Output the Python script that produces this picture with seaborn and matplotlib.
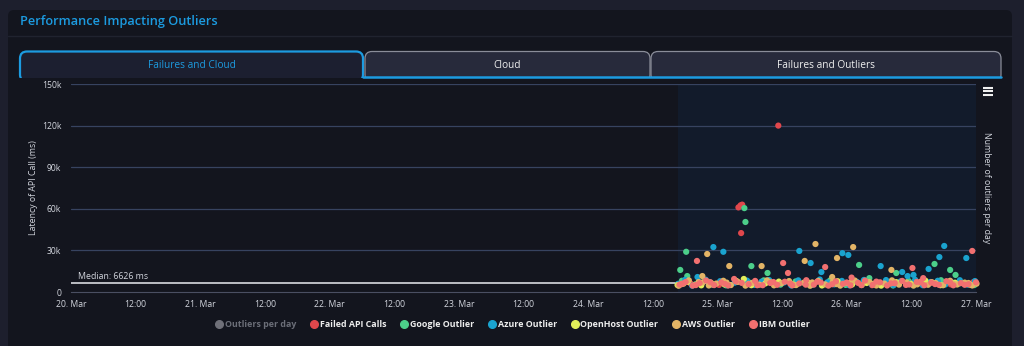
import pandas as pd
import matplotlib
matplotlib.use("Agg")
import matplotlib.pyplot as plt
import matplotlib.transforms as mtransforms
from matplotlib.patches import FancyBboxPatch, Rectangle
from matplotlib.lines import Line2D
import seaborn as sns

W, H = 1024, 346

# ---- data (hours after 24 Mar 16:30, latency in k ms) ----
failed_pts = [(11.4, 61.0), (11.8, 62.5), (12.1, 63.0), (11.9, 42.5), (18.8, 120.0),
              (2.5, 6.2), (7.8, 5.1), (14.6, 7.0), (22.3, 5.8), (29.0, 6.6), (36.2, 4.9),
              (43.5, 6.4), (50.8, 5.5), (55.0, 7.1)]
google_pts = [(12.5, 60.5), (12.7, 50.5), (1.7, 29.0), (0.6, 15.9), (1.9, 11.5), (13.8, 18.7),
              (16.8, 13.7), (33.8, 19.5), (40.7, 13.7), (47.8, 20.2), (50.7, 15.9), (51.7, 12.3),
              (35.7, 10.0),
              (0.9, 8.1), (3.4, 5.5), (6.0, 7.2), (9.1, 4.8), (13.4, 6.8), (16.1, 8.4), (19.2, 5.3),
              (22.0, 7.6), (25.3, 6.0), (28.4, 8.3), (31.3, 5.1), (34.6, 7.5), (37.5, 6.3),
              (40.1, 4.7), (43.0, 7.9), (45.9, 5.6), (49.0, 8.5), (52.4, 6.2), (55.2, 5.0)]
azure_pts = [(6.75, 32.4), (8.6, 29.0), (22.7, 29.6), (24.8, 20.9), (26.8, 14.4), (30.7, 28.0),
             (31.8, 26.7), (37.8, 18.7), (41.8, 14.4), (42.8, 11.5), (43.9, 12.3), (46.7, 16.6),
             (48.7, 25.2), (49.6, 33.2), (53.7, 24.5), (3.8, 10.8),
             (0.2, 5.9), (1.5, 8.8), (2.8, 4.6), (4.1, 7.1), (5.3, 8.9), (6.6, 5.4), (8.0, 7.8),
             (9.4, 4.9), (10.7, 6.7), (13.0, 8.2), (14.4, 5.1), (15.7, 7.5), (17.1, 8.6),
             (18.5, 5.8), (19.9, 6.9), (21.2, 4.7), (22.5, 8.4), (23.8, 6.3), (25.1, 5.2),
             (26.5, 9.0), (27.9, 7.0), (29.2, 5.5), (30.6, 8.0), (32.0, 4.8), (33.4, 7.3),
             (34.7, 8.7), (36.1, 5.7), (37.4, 6.6), (38.8, 8.6), (40.2, 5.0), (41.5, 7.7),
             (42.9, 6.0), (44.2, 8.8), (45.6, 4.9), (47.0, 7.2), (48.4, 8.1), (49.8, 5.4),
             (51.1, 6.8), (52.5, 8.5), (53.9, 5.3), (55.3, 7.9)]
openhost_pts = [(12.4, 9.4),
                (0.1, 5.0), (2.0, 7.3), (4.5, 4.8), (6.3, 6.6), (8.8, 5.5), (11.0, 8.0),
                (13.8, 4.9), (16.4, 6.2), (18.9, 7.5), (21.7, 5.1), (24.3, 6.9), (26.9, 4.7),
                (29.8, 7.8), (32.5, 5.4), (35.2, 6.5), (37.9, 4.6), (40.7, 7.1), (43.4, 5.8),
                (46.1, 8.2), (48.9, 4.9), (51.6, 6.7), (54.4, 5.3)]
aws_pts = [(5.6, 27.4), (9.7, 18.7), (4.7, 11.5), (15.7, 18.7), (23.7, 22.4), (25.7, 34.6),
           (29.7, 24.5), (32.7, 32.4), (39.8, 15.9), (28.8, 10.8),
           (0.3, 4.5), (1.2, 6.0), (2.2, 8.4), (3.3, 5.1), (4.8, 7.0), (5.9, 4.7), (7.3, 6.1),
           (8.6, 8.1), (10.0, 5.0), (11.3, 7.3), (12.7, 4.6), (14.0, 6.6), (15.3, 5.3),
           (16.7, 8.4), (18.0, 4.8), (19.4, 6.3), (20.8, 7.9), (22.1, 5.0), (23.5, 6.7),
           (24.7, 4.5), (26.2, 8.0), (27.5, 5.5), (28.9, 7.1), (30.3, 4.6), (31.6, 6.4),
           (33.0, 8.3), (34.3, 5.0), (35.7, 7.2), (37.0, 4.7), (38.5, 6.1), (39.9, 8.4),
           (41.2, 5.3), (42.6, 6.9), (43.9, 4.6), (45.3, 7.6), (46.6, 5.2), (48.0, 6.5),
           (49.4, 4.9), (50.7, 8.1), (52.0, 5.4), (53.4, 6.8), (54.8, 4.7), (55.6, 6.0),
           (0.8, 5.6), (4.0, 7.2), (6.6, 5.4), (9.2, 6.8), (13.3, 5.9), (17.4, 7.0),
           (21.4, 5.6), (25.1, 6.9), (29.6, 5.7), (32.4, 7.4), (36.4, 5.9), (40.6, 6.6),
           (44.6, 5.5), (47.3, 7.1), (51.4, 5.8), (54.1, 6.5)]
ibm_pts = [(3.7, 22.4), (19.7, 20.9), (20.6, 13.7), (27.5, 18.0), (43.7, 17.3), (45.7, 10.0),
           (54.8, 29.6), (10.6, 9.4), (32.4, 10.4),
           (0.5, 5.4), (1.6, 7.2), (2.9, 4.6), (4.2, 6.4), (5.4, 8.3), (6.9, 5.0), (8.2, 6.9),
           (9.5, 4.7), (10.9, 7.6), (13.3, 5.6), (14.5, 8.0), (15.9, 4.9), (17.3, 6.5),
           (18.6, 5.2), (20.0, 7.4), (21.4, 4.8), (22.7, 6.2), (24.0, 8.5), (25.4, 5.3),
           (26.7, 6.8), (28.1, 4.6), (29.5, 7.7), (30.8, 5.9), (32.2, 4.8), (33.6, 6.6),
           (34.9, 8.2), (36.3, 5.1), (37.7, 7.0), (39.0, 4.7), (40.4, 6.3), (41.8, 8.0),
           (43.1, 5.4), (44.5, 7.3), (45.9, 4.9), (47.2, 6.7), (48.6, 5.2), (50.0, 7.8),
           (51.3, 4.8), (52.7, 6.4), (54.1, 5.6), (55.5, 7.0),
           (1.0, 6.0), (3.5, 5.0), (6.2, 7.0), (8.9, 5.8), (12.0, 6.6), (14.9, 4.9),
           (17.9, 7.2), (21.0, 6.1), (23.9, 5.3), (26.0, 7.4), (28.8, 5.6), (31.5, 6.9),
           (34.2, 5.0), (37.0, 7.5), (39.7, 6.2), (42.5, 5.1), (45.2, 7.0), (47.9, 5.7),
           (50.7, 6.8), (53.4, 5.2)]

series_names = ["Failed API Calls", "Google Outlier", "Azure Outlier",
                "OpenHost Outlier", "AWS Outlier", "IBM Outlier"]
series_colors = ["#e0474c", "#4ccf8a", "#1aa3cf", "#e2ef5a", "#e3b466", "#f27070"]
series_pts = [failed_pts, google_pts, azure_pts, openhost_pts, aws_pts, ibm_pts]

median_ms = 6626
y_ticks = [0, 30000, 60000, 90000, 120000, 150000]
y_labels = ["0", "30k", "60k", "90k", "120k", "150k"]
x_labels = ["20. Mar", "12:00", "21. Mar", "12:00", "22. Mar", "12:00", "23. Mar", "12:00",
            "24. Mar", "12:00", "25. Mar", "12:00", "26. Mar", "12:00", "27. Mar"]
tab_labels = ["Failures and Cloud", "Cloud", "Failures and Outliers"]

start = pd.Timestamp("2024-03-24 16:30")
x_min = pd.Timestamp("2024-03-20")
x_max = pd.Timestamp("2024-03-27")

rows = []
for name, pts in zip(series_names, series_pts):
    for h, v in pts:
        rows.append((name, start + pd.Timedelta(hours=h), v * 1000))
df = pd.DataFrame(rows, columns=["series", "time", "latency"])

# ---- colours ----
outer_bg = "#1d1f2d"
card_bg = "#13151e"
band_bg = "#121b2b"
blue = "#1c9be0"
grid_c = "#374360"
text_c = "#d3d6de"

sns.set_style("dark")
plt.rcParams["font.family"] = ["Open Sans", "DejaVu Sans"]

fig = plt.figure(figsize=(W / 100, H / 100), dpi=100)
fig.patch.set_facecolor(outer_bg)

# background layer in pixel coordinates
bg = fig.add_axes([0, 0, 1, 1])
bg.set_xlim(0, W)
bg.set_ylim(H, 0)
bg.axis("off")
bg.add_patch(FancyBboxPatch((8, 10), 1004, 400, boxstyle="round,pad=0,rounding_size=6",
                            fc=card_bg, ec="none"))
bg.plot([8, 1012], [35.5, 35.5], color="#20232f", lw=1)
bg.text(20, 22, "Performance Impacting Outliers", color=blue, fontsize=9.2,
        fontweight="semibold", va="center", ha="left")

tab_spans = [(20, 363), (365, 650), (651, 1001)]
for i, ((x0, x1), lab) in enumerate(zip(tab_spans, tab_labels)):
    active = i == 0
    bg.add_patch(FancyBboxPatch((x0, 51.5), x1 - x0, 30,
                                boxstyle="round,pad=0,rounding_size=7",
                                fc="#1c1f30" if active else "#272a3b",
                                ec=blue if active else "#8a8d99",
                                lw=1.6 if active else 0.9))
    bg.text((x0 + x1) / 2, 65, lab, color=blue if active else "#f0f0f0",
            fontsize=7.3, ha="center", va="center")
bg.add_patch(Rectangle((15, 78), 995, 6, fc=card_bg, ec="none", zorder=5))
bg.plot([363, 1001], [77, 77], color=blue, lw=1.8, zorder=6)
for yy in (87.5, 91, 94.5):
    bg.plot([983, 993], [yy, yy], color="#f0f0f0", lw=1.5, solid_capstyle="butt")

# main plot
ax = fig.add_axes([71 / W, (H - 292) / H, 905 / W, 208 / H])
ax.set_facecolor("none")
ax.axvspan(df["time"].min(), x_max, color=band_bg, zorder=0, lw=0)
for yv in y_ticks[1:]:
    ax.axhline(yv, color=grid_c, lw=0.9, zorder=1)
ax.axhline(median_ms, color="#d9dbe0", lw=1.2, zorder=2)

sns.scatterplot(data=df, x="time", y="latency", hue="series", hue_order=series_names,
                palette=dict(zip(series_names, series_colors)), s=20, linewidth=0,
                legend=False, ax=ax, zorder=3, clip_on=False)

blend = mtransforms.blended_transform_factory(ax.transAxes, ax.transData)
ax.annotate(f"Median: {median_ms} ms", xy=(0, median_ms), xycoords=blend,
            xytext=(5, 1.5), textcoords="offset points", fontsize=6.3,
            color=text_c, va="bottom", ha="left")

ax.set_xlim(x_min, x_max)
ax.set_ylim(0, 150000)
ax.set_yticks(y_ticks)
ax.set_yticklabels(y_labels)
ax.set_xticks(pd.date_range(x_min, x_max, freq="12h"))
ax.set_xticklabels(x_labels)
ax.grid(False)
ax.set_xlabel("")
ax.set_ylabel("")
for side in ("top", "right", "left"):
    ax.spines[side].set_visible(False)
ax.spines["bottom"].set_color("#4a4f62")
ax.spines["bottom"].set_linewidth(0.8)
ax.tick_params(axis="y", length=0, pad=7, labelsize=6.2, labelcolor=text_c)
ax.tick_params(axis="x", length=3.5, width=0.8, color="#4a4f62", pad=2,
               labelsize=6.2, labelcolor=text_c)

fig.text(34 / W, 1 - 188 / H, "Latency of API Call (ms)", rotation=90, fontsize=6.3,
         color=text_c, ha="center", va="center")
fig.text(987 / W, 1 - 188 / H, "Number of outliers per day", rotation=-90, fontsize=6.3,
         color=text_c, ha="center", va="center")

# legend
handles = [Line2D([], [], marker="o", ls="", color="#6f7079", markersize=5.5)]
handles += [Line2D([], [], marker="o", ls="", color=c, markersize=5.5) for c in series_colors]
labels = ["Outliers per day"] + series_names
leg = fig.legend(handles, labels, loc="center", bbox_to_anchor=(0.5, 1 - 324.5 / H),
                 ncol=7, frameon=False, fontsize=6.4, handletextpad=0.15,
                 columnspacing=1.5, handlelength=1.0)
for i, t in enumerate(leg.get_texts()):
    t.set_fontweight("bold")
    t.set_color("#6b6e78" if i == 0 else "#eeeeee")

fig.savefig("out.png", dpi=100, facecolor=fig.get_facecolor())
